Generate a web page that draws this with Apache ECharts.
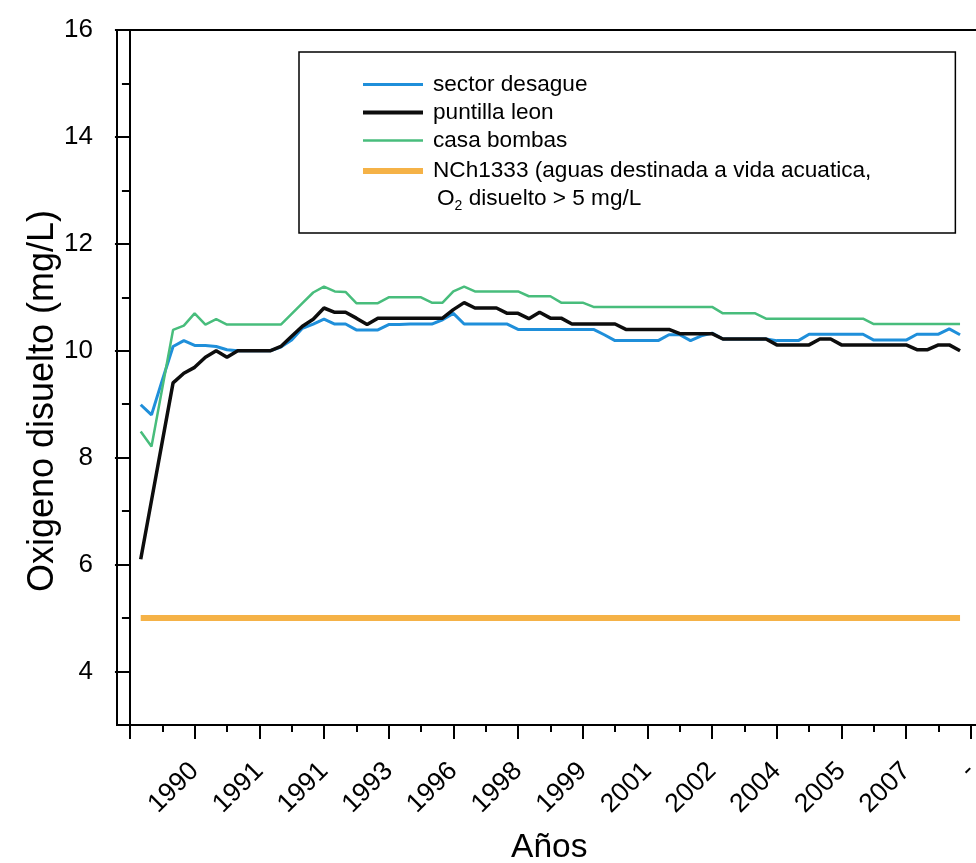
<!DOCTYPE html>
<html><head><meta charset="utf-8">
<script src="https://cdn.jsdelivr.net/npm/echarts@6/dist/echarts.min.js"></script>
<style>html,body{margin:0;padding:0;background:#fff}#c{width:976px;height:863px}</style>
</head><body><div id="c"></div>
<script>
// ---- data ----
const tickLabels = ['1990','1991','1991','1993','1996','1998','1999','2001','2002','2004','2005','2007','-'];

const sectorDesague = [
  8.99, 8.80, 9.45, 10.08, 10.19, 10.10, 10.10, 10.08, 10.02, 10.00,
  10.00, 10.00, 10.00, 10.07, 10.20, 10.42, 10.50, 10.59, 10.50, 10.50,
  10.39, 10.39, 10.39, 10.49, 10.49, 10.50, 10.50, 10.50, 10.58, 10.70,
  10.50, 10.50, 10.50, 10.50, 10.50, 10.40, 10.40, 10.40, 10.40, 10.40,
  10.40, 10.40, 10.40, 10.30, 10.19, 10.19, 10.19, 10.19, 10.19, 10.30,
  10.30, 10.19, 10.28, 10.33, 10.22, 10.22, 10.22, 10.22, 10.22, 10.19,
  10.19, 10.19, 10.31, 10.31, 10.31, 10.31, 10.31, 10.31, 10.20, 10.20,
  10.20, 10.20, 10.31, 10.31, 10.31, 10.41, 10.30
];
const puntillaLeon = [
  6.10, 7.20, 8.30, 9.40, 9.58, 9.69, 9.88, 10.00, 9.88, 10.00,
  10.00, 10.00, 10.00, 10.08, 10.27, 10.46, 10.59, 10.80, 10.72, 10.72,
  10.61, 10.49, 10.61, 10.61, 10.61, 10.61, 10.61, 10.61, 10.61, 10.77,
  10.90, 10.80, 10.80, 10.80, 10.70, 10.70, 10.60, 10.72, 10.61, 10.61,
  10.50, 10.50, 10.50, 10.50, 10.50, 10.40, 10.40, 10.40, 10.40, 10.40,
  10.32, 10.32, 10.32, 10.32, 10.22, 10.22, 10.22, 10.22, 10.22, 10.11,
  10.11, 10.11, 10.11, 10.22, 10.22, 10.11, 10.11, 10.11, 10.11, 10.11,
  10.11, 10.11, 10.02, 10.02, 10.11, 10.11, 10.00
];
const casaBombas = [
  8.49, 8.21, 9.30, 10.39, 10.47, 10.70, 10.49, 10.59, 10.49, 10.49,
  10.49, 10.49, 10.49, 10.49, 10.69, 10.89, 11.09, 11.20, 11.11, 11.10,
  10.89, 10.89, 10.89, 11.00, 11.00, 11.00, 11.00, 10.90, 10.90, 11.11,
  11.20, 11.11, 11.11, 11.11, 11.11, 11.11, 11.02, 11.02, 11.02, 10.90,
  10.90, 10.90, 10.82, 10.82, 10.82, 10.82, 10.82, 10.82, 10.82, 10.82,
  10.82, 10.82, 10.82, 10.82, 10.70, 10.70, 10.70, 10.70, 10.60, 10.60,
  10.60, 10.60, 10.60, 10.60, 10.60, 10.60, 10.60, 10.60, 10.50, 10.50,
  10.50, 10.50, 10.50, 10.50, 10.50, 10.50, 10.50
];
const normaNCh1333 = [
  5, 5, 5, 5, 5, 5, 5, 5, 5, 5,
  5, 5, 5, 5, 5, 5, 5, 5, 5, 5,
  5, 5, 5, 5, 5, 5, 5, 5, 5, 5,
  5, 5, 5, 5, 5, 5, 5, 5, 5, 5,
  5, 5, 5, 5, 5, 5, 5, 5, 5, 5,
  5, 5, 5, 5, 5, 5, 5, 5, 5, 5,
  5, 5, 5, 5, 5, 5, 5, 5, 5, 5,
  5, 5, 5, 5, 5, 5, 5
];

// ---- chart ----
const FONT = '"Liberation Sans", Arial, Helvetica, sans-serif';
const NORMA = 'NCh1333';
const C_BLUE = '#1F8FDA', C_BLACK = '#0d0d0d', C_GREEN = '#48BD7C', C_ORANGE = '#F5B247';
const toPts = arr => arr.map((v, k) => [k + 1, v]);
const majorX = [], minorX = [];
for (let k = 0; k <= 13; k++) majorX.push(k * 6);
for (let k = 0; k < 13; k++) minorX.push(k * 6 + 3);
const majorY = [4, 6, 8, 10, 12, 14, 16], minorY = [5, 7, 9, 11, 13, 15];

const chart = echarts.init(document.getElementById('c'), null, {renderer: 'canvas'});
const axisCommonX = {type: 'value', min: -1.2, max: 79, position: 'bottom', splitLine: {show: false}};
const axisCommonY = {type: 'value', min: 3, max: 16, interval: 1, position: 'left', splitLine: {show: false}};

chart.setOption({
  animation: false,
  backgroundColor: '#fff',
  grid: {left: 117, top: 30, width: 864.6, height: 695, show: true, borderColor: '#000', borderWidth: 2,
    containLabel: false, outerBoundsMode: 'none'},
  xAxis: [
    Object.assign({}, axisCommonX, {
      axisLine: {show: true, lineStyle: {color: '#000', width: 2}},
      axisTick: {show: true, length: 14, customValues: majorX, lineStyle: {color: '#000', width: 2}},
      axisLabel: {customValues: majorX.slice(1), rotate: 45, margin: 42, fontSize: 26.5, color: '#000', fontFamily: FONT,
        formatter: v => { const k = Math.round(v / 6) - 1; return tickLabels[k] !== undefined ? tickLabels[k] : ''; }},
      name: 'Años', nameLocation: 'middle', nameGap: 106, nameMoveOverlap: false,
      nameTextStyle: {fontSize: 33.5, color: '#000', fontFamily: FONT}
    }),
    Object.assign({}, axisCommonX, {
      axisLine: {show: false},
      axisTick: {show: true, length: 7, customValues: minorX, lineStyle: {color: '#000', width: 2}},
      axisLabel: {show: false}
    })
  ],
  yAxis: [
    Object.assign({}, axisCommonY, {
      axisLine: {show: true, lineStyle: {color: '#000', width: 2}},
      axisTick: {show: true, length: 15, customValues: majorY, lineStyle: {color: '#000', width: 2}},
      axisLabel: {customValues: majorY, margin: 24, fontSize: 26, color: '#000', fontFamily: FONT},
      name: 'Oxigeno disuelto (mg/L)', nameLocation: 'middle', nameGap: 56, nameRotate: 90, nameMoveOverlap: false,
      nameTextStyle: {fontSize: 36, color: '#000', fontFamily: FONT, padding: [0, 47, 0, 0]}
    }),
    Object.assign({}, axisCommonY, {
      axisLine: {show: false},
      axisTick: {show: true, length: 8, customValues: minorY, lineStyle: {color: '#000', width: 2}},
      axisLabel: {show: false}
    })
  ],
  legend: {
    orient: 'vertical', left: 299, top: 52,
    itemWidth: 60, itemHeight: 1, itemGap: 5,
    padding: [21, 84, 20, 61],
    borderColor: '#000', borderWidth: 1.5,
    selectedMode: false,
    textStyle: {fontSize: 22.6, color: '#000', fontFamily: FONT, padding: [0, 0, 0, 5],
      rich: {
        ind: {fontSize: 22.6, fontFamily: FONT, color: '#000', padding: [0, 0, 0, 4]},
        sub: {fontSize: 14, fontFamily: FONT, color: '#000', verticalAlign: 'bottom', lineHeight: 8}
      }},
    data: [
      {name: 'sector desague', lineStyle: {color: C_BLUE, width: 3}},
      {name: 'puntilla leon', lineStyle: {color: C_BLACK, width: 4}},
      {name: 'casa bombas', lineStyle: {color: C_GREEN, width: 2.5}},
      {name: NORMA, lineStyle: {color: C_ORANGE, width: 6}, textStyle: {padding: [0, 0, -28, 5], lineHeight: 28}}
    ],
    formatter: name => name === NORMA
      ? 'NCh1333 (aguas destinada a vida acuatica,\n{ind|O}{sub|2} disuelto > 5 mg/L'
      : name
  },
  series: [
    {name: NORMA, type: 'line', symbol: 'none', data: toPts(normaNCh1333),
      lineStyle: {color: C_ORANGE, width: 6}, itemStyle: {color: C_ORANGE}, z: 1},
    {name: 'sector desague', type: 'line', symbol: 'none', data: toPts(sectorDesague),
      lineStyle: {color: C_BLUE, width: 3}, itemStyle: {color: C_BLUE}, z: 2},
    {name: 'puntilla leon', type: 'line', symbol: 'none', data: toPts(puntillaLeon),
      lineStyle: {color: C_BLACK, width: 3.5}, itemStyle: {color: C_BLACK}, z: 3},
    {name: 'casa bombas', type: 'line', symbol: 'none', data: toPts(casaBombas),
      lineStyle: {color: C_GREEN, width: 2.5}, itemStyle: {color: C_GREEN}, z: 4}
  ]
});
</script>
</body></html>
